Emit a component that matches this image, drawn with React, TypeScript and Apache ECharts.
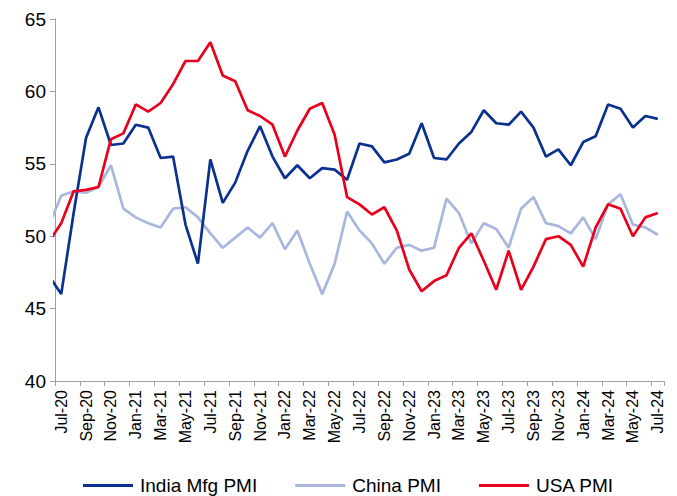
import React, { useEffect, useRef } from "react";
import * as echarts from "echarts";

// Monthly PMI readings, Jun-20 through Jul-24 (Jun-20 only feeds the line's entry at the left edge)
const months = [
  "Jun-20", "Jul-20", "Aug-20", "Sep-20", "Oct-20", "Nov-20", "Dec-20",
  "Jan-21", "Feb-21", "Mar-21", "Apr-21", "May-21", "Jun-21", "Jul-21", "Aug-21", "Sep-21", "Oct-21", "Nov-21", "Dec-21",
  "Jan-22", "Feb-22", "Mar-22", "Apr-22", "May-22", "Jun-22", "Jul-22", "Aug-22", "Sep-22", "Oct-22", "Nov-22", "Dec-22",
  "Jan-23", "Feb-23", "Mar-23", "Apr-23", "May-23", "Jun-23", "Jul-23", "Aug-23", "Sep-23", "Oct-23", "Nov-23", "Dec-23",
  "Jan-24", "Feb-24", "Mar-24", "Apr-24", "May-24", "Jun-24", "Jul-24",
];

const indiaMfgPmi = [
  47.3, 46.0, 51.6, 56.8, 58.9, 56.3, 56.4,
  57.7, 57.5, 55.4, 55.5, 50.8, 48.1, 55.3, 52.3, 53.7, 55.9, 57.6, 55.5,
  54.0, 54.9, 54.0, 54.7, 54.6, 53.9, 56.4, 56.2, 55.1, 55.3, 55.7, 57.8,
  55.4, 55.3, 56.4, 57.2, 58.7, 57.8, 57.7, 58.6, 57.5, 55.5, 56.0, 54.9,
  56.5, 56.9, 59.1, 58.8, 57.5, 58.3, 58.1,
];

const chinaPmi = [
  50.7, 52.8, 53.1, 53.0, 53.4, 54.9, 51.9,
  51.3, 50.9, 50.6, 51.9, 52.0, 51.3, 50.2, 49.2, 49.9, 50.6, 49.9, 50.9,
  49.1, 50.4, 48.1, 46.0, 48.1, 51.7, 50.4, 49.5, 48.1, 49.2, 49.4, 49.0,
  49.2, 52.6, 51.6, 49.5, 50.9, 50.5, 49.2, 51.9, 52.7, 50.9, 50.7, 50.2,
  51.3, 49.8, 52.2, 52.9, 50.8, 50.6, 50.1,
];

const usaPmi = [
  49.6, 50.9, 53.1, 53.2, 53.4, 56.7, 57.1,
  59.1, 58.6, 59.2, 60.5, 62.1, 62.1, 63.4, 61.1, 60.7, 58.7, 58.3, 57.7,
  55.5, 57.3, 58.8, 59.2, 57.0, 52.7, 52.2, 51.5, 52.0, 50.4, 47.7, 46.2,
  46.9, 47.3, 49.2, 50.2, 48.3, 46.3, 49.0, 46.3, 47.9, 49.8, 50.0, 49.4,
  47.9, 50.6, 52.2, 51.9, 50.0, 51.3, 51.6,
];

const FONT = "'Liberation Sans', Arial, sans-serif";
const AXIS_GREY = "#A0A0A0";

const seriesDefs = [
  { name: "India Mfg PMI", values: indiaMfgPmi, color: "#0B318F", z: 3 },
  { name: "China PMI", values: chinaPmi, color: "#A9B7DE", z: 2 },
  { name: "USA PMI", values: usaPmi, color: "#E8001C", z: 4 },
];

export default function App() {
  const ref = useRef<HTMLDivElement>(null);

  useEffect(() => {
    if (!ref.current) return;
    const chart = echarts.init(ref.current, undefined, { renderer: "svg" });

    chart.setOption({
      animation: false,
      backgroundColor: "#ffffff",
      textStyle: { fontFamily: FONT },
      grid: { left: 55, right: 13, top: 19, bottom: 115, containLabel: false },
      xAxis: [
        {
          // visible month axis, one band per month from Jul-20
          type: "category",
          data: months.slice(1),
          boundaryGap: true,
          axisLine: { show: true, lineStyle: { color: AXIS_GREY, width: 1 } },
          axisTick: { show: true, interval: 1, length: 5, lineStyle: { color: AXIS_GREY } },
          axisLabel: {
            interval: 1,
            rotate: 90,
            fontSize: 16,
            color: "#000",
            fontFamily: FONT,
            margin: 9,
          },
          splitLine: { show: false },
        },
        {
          // hidden positional axis: index 1 = Jul-20, so Jun-20 sits just outside the plot
          type: "value",
          min: 0.5,
          max: months.length - 0.5,
          show: false,
        },
      ],
      yAxis: {
        type: "value",
        min: 40,
        max: 65,
        interval: 5,
        axisLine: { show: true, lineStyle: { color: AXIS_GREY, width: 1 } },
        axisTick: { show: true, length: 5, lineStyle: { color: AXIS_GREY } },
        axisLabel: { fontSize: 19, color: "#000", fontFamily: FONT, margin: 9 },
        splitLine: { show: false },
      },
      legend: {
        data: seriesDefs.map((s) => s.name),
        left: 78,
        top: 471,
        icon: "rect",
        itemWidth: 50,
        itemHeight: 3,
        itemGap: 38,
        textStyle: { fontSize: 19, color: "#000", fontFamily: FONT, padding: [0, 0, 0, 2] },
      },
      series: seriesDefs.map((s) => ({
        name: s.name,
        type: "line",
        xAxisIndex: 1,
        data: s.values.map((v, i) => [i, v]),
        symbol: "none",
        clip: true,
        z: s.z,
        color: s.color,
        lineStyle: { color: s.color, width: 2.7 },
      })),
    });

    return () => chart.dispose();
  }, []);

  return (
    <div
      ref={ref}
      style={{ position: "fixed", left: 0, top: 0, width: 677, height: 496, background: "#fff" }}
    />
  );
}
